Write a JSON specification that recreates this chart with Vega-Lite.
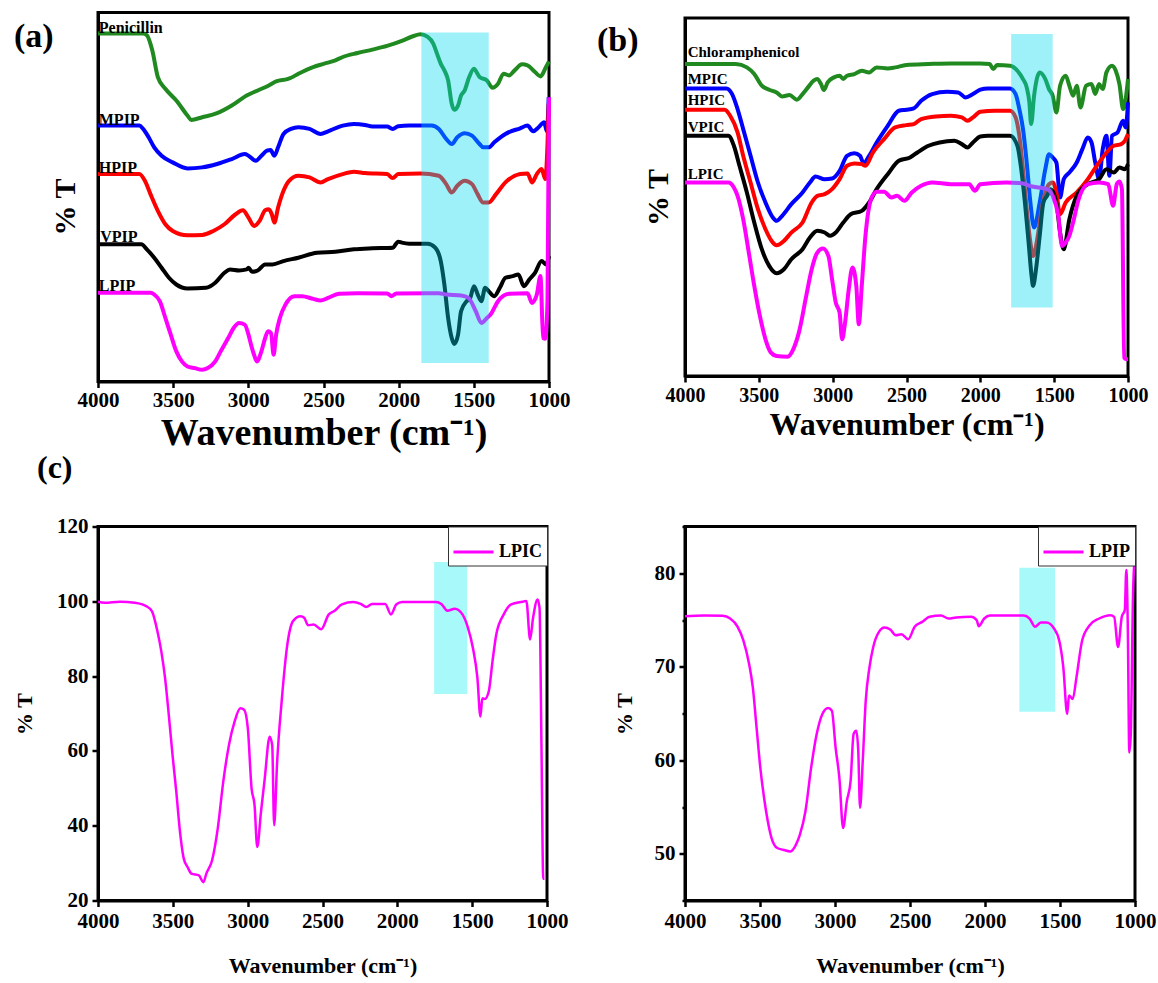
{
  "$schema": "https://vega.github.io/schema/vega-lite/v6.json",
  "background": "white",
  "padding": {"left": 12, "top": 10.5, "right": 0, "bottom": 0},
  "config": {
    "font": "Liberation Serif",
    "view": {"stroke": "black", "strokeWidth": 3},
    "axis": {"grid": false, "domainColor": "black", "tickColor": "black", "labelColor": "black", "titleColor": "black", "labelFont": "Liberation Serif", "titleFont": "Liberation Serif", "labelFontWeight": "bold", "titleFontWeight": "bold", "labelFlush": false, "labelOverlap": false, "labelBound": false},
    "title": {"font": "Liberation Serif", "fontWeight": "bold", "color": "black", "anchor": "start", "frame": "group", "offset": 0, "baseline": "alphabetic"},
    "text": {"font": "Liberation Serif", "fontWeight": "bold", "color": "black"}
  },
  "resolve": {"scale": {"color": "independent"}, "legend": {"color": "independent"}},
  "columns": 2,
  "spacing": {"row": 145, "column": 136},
  "bounds": "flush",
  "align": "each",
  "center": {"row": true},
  "datasets": {
    "a": [
      {"s":"Penicillin","w":4000,"t":1040},{"s":"Penicillin","w":3700,"t":1040},{"s":"Penicillin","w":3675,"t":1035},{"s":"Penicillin","w":3639,"t":990},{"s":"Penicillin","w":3602,"t":910},{"s":"Penicillin","w":3552,"t":875},{"s":"Penicillin","w":3479,"t":840},{"s":"Penicillin","w":3405,"t":795},{"s":"Penicillin","w":3380,"t":782},{"s":"Penicillin","w":3307,"t":790},{"s":"Penicillin","w":3208,"t":802},{"s":"Penicillin","w":3110,"t":825},{"s":"Penicillin","w":3011,"t":855},{"s":"Penicillin","w":2938,"t":870},{"s":"Penicillin","w":2864,"t":885},{"s":"Penicillin","w":2815,"t":897},{"s":"Penicillin","w":2741,"t":904},{"s":"Penicillin","w":2716,"t":908},{"s":"Penicillin","w":2667,"t":920},{"s":"Penicillin","w":2569,"t":940},{"s":"Penicillin","w":2495,"t":950},{"s":"Penicillin","w":2421,"t":960},{"s":"Penicillin","w":2372,"t":970},{"s":"Penicillin","w":2274,"t":982},{"s":"Penicillin","w":2175,"t":992},{"s":"Penicillin","w":2077,"t":1003},{"s":"Penicillin","w":1979,"t":1018},{"s":"Penicillin","w":1905,"t":1032},{"s":"Penicillin","w":1856,"t":1038},{"s":"Penicillin","w":1807,"t":1030},{"s":"Penicillin","w":1770,"t":1010},{"s":"Penicillin","w":1745,"t":980},{"s":"Penicillin","w":1720,"t":950},{"s":"Penicillin","w":1696,"t":930},{"s":"Penicillin","w":1671,"t":900},{"s":"Penicillin","w":1647,"t":830},{"s":"Penicillin","w":1630,"t":812},{"s":"Penicillin","w":1605,"t":825},{"s":"Penicillin","w":1585,"t":855},{"s":"Penicillin","w":1561,"t":870},{"s":"Penicillin","w":1531,"t":910},{"s":"Penicillin","w":1499,"t":935},{"s":"Penicillin","w":1482,"t":925},{"s":"Penicillin","w":1462,"t":910},{"s":"Penicillin","w":1413,"t":900},{"s":"Penicillin","w":1376,"t":878},{"s":"Penicillin","w":1339,"t":890},{"s":"Penicillin","w":1302,"t":920},{"s":"Penicillin","w":1266,"t":915},{"s":"Penicillin","w":1229,"t":930},{"s":"Penicillin","w":1179,"t":948},{"s":"Penicillin","w":1143,"t":945},{"s":"Penicillin","w":1093,"t":925},{"s":"Penicillin","w":1057,"t":912},{"s":"Penicillin","w":1020,"t":940},{"s":"Penicillin","w":1000,"t":957},
      {"s":"MPIP","w":4000,"t":765},{"s":"MPIP","w":3725,"t":765},{"s":"MPIP","w":3700,"t":755},{"s":"MPIP","w":3663,"t":730},{"s":"MPIP","w":3626,"t":700},{"s":"MPIP","w":3577,"t":675},{"s":"MPIP","w":3503,"t":655},{"s":"MPIP","w":3405,"t":637},{"s":"MPIP","w":3307,"t":640},{"s":"MPIP","w":3208,"t":650},{"s":"MPIP","w":3110,"t":665},{"s":"MPIP","w":3024,"t":680},{"s":"MPIP","w":2999,"t":675},{"s":"MPIP","w":2950,"t":660},{"s":"MPIP","w":2913,"t":675},{"s":"MPIP","w":2876,"t":690},{"s":"MPIP","w":2852,"t":692},{"s":"MPIP","w":2827,"t":675},{"s":"MPIP","w":2802,"t":700},{"s":"MPIP","w":2766,"t":740},{"s":"MPIP","w":2716,"t":755},{"s":"MPIP","w":2667,"t":760},{"s":"MPIP","w":2593,"t":755},{"s":"MPIP","w":2520,"t":740},{"s":"MPIP","w":2470,"t":748},{"s":"MPIP","w":2372,"t":765},{"s":"MPIP","w":2298,"t":770},{"s":"MPIP","w":2224,"t":767},{"s":"MPIP","w":2175,"t":762},{"s":"MPIP","w":2077,"t":762},{"s":"MPIP","w":2040,"t":755},{"s":"MPIP","w":2003,"t":763},{"s":"MPIP","w":1930,"t":765},{"s":"MPIP","w":1856,"t":765},{"s":"MPIP","w":1782,"t":765},{"s":"MPIP","w":1733,"t":755},{"s":"MPIP","w":1684,"t":725},{"s":"MPIP","w":1647,"t":710},{"s":"MPIP","w":1610,"t":730},{"s":"MPIP","w":1561,"t":742},{"s":"MPIP","w":1512,"t":735},{"s":"MPIP","w":1462,"t":710},{"s":"MPIP","w":1438,"t":700},{"s":"MPIP","w":1401,"t":700},{"s":"MPIP","w":1364,"t":715},{"s":"MPIP","w":1290,"t":740},{"s":"MPIP","w":1192,"t":757},{"s":"MPIP","w":1143,"t":765},{"s":"MPIP","w":1106,"t":748},{"s":"MPIP","w":1069,"t":760},{"s":"MPIP","w":1032,"t":775},{"s":"MPIP","w":1014,"t":748},{"s":"MPIP","w":1002,"t":850},
      {"s":"HPIP","w":4000,"t":620},{"s":"HPIP","w":3725,"t":620},{"s":"HPIP","w":3688,"t":600},{"s":"HPIP","w":3651,"t":560},{"s":"HPIP","w":3602,"t":510},{"s":"HPIP","w":3552,"t":470},{"s":"HPIP","w":3503,"t":450},{"s":"HPIP","w":3405,"t":437},{"s":"HPIP","w":3307,"t":438},{"s":"HPIP","w":3233,"t":450},{"s":"HPIP","w":3159,"t":470},{"s":"HPIP","w":3085,"t":500},{"s":"HPIP","w":3036,"t":512},{"s":"HPIP","w":2999,"t":490},{"s":"HPIP","w":2962,"t":465},{"s":"HPIP","w":2925,"t":480},{"s":"HPIP","w":2888,"t":512},{"s":"HPIP","w":2864,"t":515},{"s":"HPIP","w":2844,"t":500},{"s":"HPIP","w":2827,"t":475},{"s":"HPIP","w":2802,"t":520},{"s":"HPIP","w":2766,"t":570},{"s":"HPIP","w":2729,"t":600},{"s":"HPIP","w":2667,"t":615},{"s":"HPIP","w":2593,"t":610},{"s":"HPIP","w":2520,"t":595},{"s":"HPIP","w":2470,"t":605},{"s":"HPIP","w":2372,"t":620},{"s":"HPIP","w":2298,"t":627},{"s":"HPIP","w":2224,"t":623},{"s":"HPIP","w":2077,"t":620},{"s":"HPIP","w":2040,"t":608},{"s":"HPIP","w":2003,"t":620},{"s":"HPIP","w":1856,"t":622},{"s":"HPIP","w":1733,"t":615},{"s":"HPIP","w":1684,"t":590},{"s":"HPIP","w":1647,"t":565},{"s":"HPIP","w":1610,"t":585},{"s":"HPIP","w":1561,"t":600},{"s":"HPIP","w":1512,"t":590},{"s":"HPIP","w":1475,"t":560},{"s":"HPIP","w":1438,"t":535},{"s":"HPIP","w":1401,"t":535},{"s":"HPIP","w":1352,"t":560},{"s":"HPIP","w":1290,"t":595},{"s":"HPIP","w":1192,"t":620},{"s":"HPIP","w":1143,"t":622},{"s":"HPIP","w":1113,"t":595},{"s":"HPIP","w":1081,"t":620},{"s":"HPIP","w":1049,"t":635},{"s":"HPIP","w":1025,"t":605},{"s":"HPIP","w":1010,"t":710},{"s":"HPIP","w":1002,"t":830},
      {"s":"VPIP","w":4000,"t":410},{"s":"VPIP","w":3712,"t":410},{"s":"VPIP","w":3675,"t":395},{"s":"VPIP","w":3626,"t":370},{"s":"VPIP","w":3577,"t":340},{"s":"VPIP","w":3528,"t":310},{"s":"VPIP","w":3479,"t":290},{"s":"VPIP","w":3405,"t":278},{"s":"VPIP","w":3282,"t":280},{"s":"VPIP","w":3220,"t":295},{"s":"VPIP","w":3159,"t":325},{"s":"VPIP","w":3122,"t":335},{"s":"VPIP","w":3061,"t":332},{"s":"VPIP","w":3011,"t":335},{"s":"VPIP","w":2999,"t":340},{"s":"VPIP","w":2975,"t":328},{"s":"VPIP","w":2938,"t":332},{"s":"VPIP","w":2888,"t":350},{"s":"VPIP","w":2839,"t":350},{"s":"VPIP","w":2766,"t":360},{"s":"VPIP","w":2667,"t":370},{"s":"VPIP","w":2544,"t":385},{"s":"VPIP","w":2421,"t":388},{"s":"VPIP","w":2298,"t":395},{"s":"VPIP","w":2175,"t":398},{"s":"VPIP","w":2040,"t":400},{"s":"VPIP","w":2003,"t":418},{"s":"VPIP","w":1979,"t":415},{"s":"VPIP","w":1930,"t":412},{"s":"VPIP","w":1856,"t":412},{"s":"VPIP","w":1807,"t":412},{"s":"VPIP","w":1757,"t":400},{"s":"VPIP","w":1720,"t":360},{"s":"VPIP","w":1696,"t":290},{"s":"VPIP","w":1671,"t":190},{"s":"VPIP","w":1647,"t":130},{"s":"VPIP","w":1630,"t":112},{"s":"VPIP","w":1605,"t":140},{"s":"VPIP","w":1585,"t":210},{"s":"VPIP","w":1548,"t":240},{"s":"VPIP","w":1524,"t":250},{"s":"VPIP","w":1499,"t":285},{"s":"VPIP","w":1474,"t":260},{"s":"VPIP","w":1450,"t":240},{"s":"VPIP","w":1425,"t":280},{"s":"VPIP","w":1401,"t":270},{"s":"VPIP","w":1364,"t":255},{"s":"VPIP","w":1327,"t":280},{"s":"VPIP","w":1290,"t":310},{"s":"VPIP","w":1241,"t":315},{"s":"VPIP","w":1204,"t":320},{"s":"VPIP","w":1167,"t":285},{"s":"VPIP","w":1131,"t":305},{"s":"VPIP","w":1093,"t":325},{"s":"VPIP","w":1049,"t":360},{"s":"VPIP","w":1020,"t":350},{"s":"VPIP","w":1000,"t":375},
      {"s":"LPIP","w":4000,"t":265},{"s":"LPIP","w":3651,"t":265},{"s":"LPIP","w":3626,"t":260},{"s":"LPIP","w":3589,"t":240},{"s":"LPIP","w":3552,"t":190},{"s":"LPIP","w":3516,"t":140},{"s":"LPIP","w":3479,"t":90},{"s":"LPIP","w":3442,"t":60},{"s":"LPIP","w":3405,"t":45},{"s":"LPIP","w":3356,"t":40},{"s":"LPIP","w":3307,"t":35},{"s":"LPIP","w":3270,"t":40},{"s":"LPIP","w":3220,"t":60},{"s":"LPIP","w":3184,"t":90},{"s":"LPIP","w":3134,"t":130},{"s":"LPIP","w":3098,"t":160},{"s":"LPIP","w":3061,"t":175},{"s":"LPIP","w":3024,"t":170},{"s":"LPIP","w":2999,"t":140},{"s":"LPIP","w":2982,"t":110},{"s":"LPIP","w":2962,"t":80},{"s":"LPIP","w":2943,"t":60},{"s":"LPIP","w":2913,"t":90},{"s":"LPIP","w":2888,"t":130},{"s":"LPIP","w":2869,"t":150},{"s":"LPIP","w":2849,"t":145},{"s":"LPIP","w":2832,"t":80},{"s":"LPIP","w":2815,"t":140},{"s":"LPIP","w":2790,"t":190},{"s":"LPIP","w":2753,"t":230},{"s":"LPIP","w":2692,"t":255},{"s":"LPIP","w":2643,"t":255},{"s":"LPIP","w":2569,"t":247},{"s":"LPIP","w":2520,"t":242},{"s":"LPIP","w":2470,"t":250},{"s":"LPIP","w":2397,"t":262},{"s":"LPIP","w":2274,"t":264},{"s":"LPIP","w":2077,"t":263},{"s":"LPIP","w":2047,"t":255},{"s":"LPIP","w":2016,"t":263},{"s":"LPIP","w":1733,"t":264},{"s":"LPIP","w":1684,"t":260},{"s":"LPIP","w":1585,"t":257},{"s":"LPIP","w":1536,"t":250},{"s":"LPIP","w":1487,"t":210},{"s":"LPIP","w":1450,"t":175},{"s":"LPIP","w":1413,"t":190},{"s":"LPIP","w":1389,"t":200},{"s":"LPIP","w":1339,"t":240},{"s":"LPIP","w":1266,"t":262},{"s":"LPIP","w":1143,"t":264},{"s":"LPIP","w":1113,"t":235},{"s":"LPIP","w":1081,"t":260},{"s":"LPIP","w":1057,"t":315},{"s":"LPIP","w":1039,"t":130},{"s":"LPIP","w":1025,"t":128},{"s":"LPIP","w":1010,"t":240},{"s":"LPIP","w":1000,"t":850}
    ],
    "aLab": [
      {"label":"Penicillin","w":3995,"t":1042},{"label":"MPIP","w":3995,"t":768},{"label":"HPIP","w":3995,"t":623},{"label":"VPIP","w":3985,"t":418},{"label":"LPIP","w":3995,"t":270}
    ],
    "aBox": [{"x1":1849,"x2":1401,"y1":55,"y2":1043}],
    "b": [
      {"s":"Chloramphenicol","w":4000,"t":935},{"s":"Chloramphenicol","w":3656,"t":935},{"s":"Chloramphenicol","w":3581,"t":925},{"s":"Chloramphenicol","w":3531,"t":905},{"s":"Chloramphenicol","w":3480,"t":870},{"s":"Chloramphenicol","w":3430,"t":858},{"s":"Chloramphenicol","w":3380,"t":850},{"s":"Chloramphenicol","w":3342,"t":838},{"s":"Chloramphenicol","w":3292,"t":842},{"s":"Chloramphenicol","w":3242,"t":828},{"s":"Chloramphenicol","w":3204,"t":845},{"s":"Chloramphenicol","w":3167,"t":865},{"s":"Chloramphenicol","w":3129,"t":885},{"s":"Chloramphenicol","w":3104,"t":890},{"s":"Chloramphenicol","w":3079,"t":875},{"s":"Chloramphenicol","w":3059,"t":857},{"s":"Chloramphenicol","w":3034,"t":880},{"s":"Chloramphenicol","w":2991,"t":895},{"s":"Chloramphenicol","w":2953,"t":900},{"s":"Chloramphenicol","w":2928,"t":890},{"s":"Chloramphenicol","w":2903,"t":900},{"s":"Chloramphenicol","w":2853,"t":905},{"s":"Chloramphenicol","w":2803,"t":915},{"s":"Chloramphenicol","w":2753,"t":910},{"s":"Chloramphenicol","w":2702,"t":925},{"s":"Chloramphenicol","w":2627,"t":922},{"s":"Chloramphenicol","w":2577,"t":925},{"s":"Chloramphenicol","w":2502,"t":932},{"s":"Chloramphenicol","w":2351,"t":935},{"s":"Chloramphenicol","w":2200,"t":937},{"s":"Chloramphenicol","w":2000,"t":937},{"s":"Chloramphenicol","w":1937,"t":935},{"s":"Chloramphenicol","w":1912,"t":920},{"s":"Chloramphenicol","w":1887,"t":932},{"s":"Chloramphenicol","w":1799,"t":930},{"s":"Chloramphenicol","w":1749,"t":915},{"s":"Chloramphenicol","w":1711,"t":890},{"s":"Chloramphenicol","w":1686,"t":865},{"s":"Chloramphenicol","w":1668,"t":820},{"s":"Chloramphenicol","w":1656,"t":755},{"s":"Chloramphenicol","w":1636,"t":840},{"s":"Chloramphenicol","w":1598,"t":910},{"s":"Chloramphenicol","w":1560,"t":890},{"s":"Chloramphenicol","w":1535,"t":860},{"s":"Chloramphenicol","w":1510,"t":840},{"s":"Chloramphenicol","w":1485,"t":790},{"s":"Chloramphenicol","w":1460,"t":870},{"s":"Chloramphenicol","w":1422,"t":900},{"s":"Chloramphenicol","w":1397,"t":870},{"s":"Chloramphenicol","w":1372,"t":840},{"s":"Chloramphenicol","w":1347,"t":870},{"s":"Chloramphenicol","w":1322,"t":805},{"s":"Chloramphenicol","w":1284,"t":870},{"s":"Chloramphenicol","w":1247,"t":875},{"s":"Chloramphenicol","w":1222,"t":845},{"s":"Chloramphenicol","w":1196,"t":875},{"s":"Chloramphenicol","w":1171,"t":860},{"s":"Chloramphenicol","w":1146,"t":910},{"s":"Chloramphenicol","w":1108,"t":930},{"s":"Chloramphenicol","w":1083,"t":915},{"s":"Chloramphenicol","w":1058,"t":875},{"s":"Chloramphenicol","w":1033,"t":800},{"s":"Chloramphenicol","w":1016,"t":830},{"s":"Chloramphenicol","w":1000,"t":890},
      {"s":"MPIC","w":4000,"t":862},{"s":"MPIC","w":3719,"t":862},{"s":"MPIC","w":3681,"t":845},{"s":"MPIC","w":3644,"t":800},{"s":"MPIC","w":3606,"t":740},{"s":"MPIC","w":3556,"t":660},{"s":"MPIC","w":3506,"t":580},{"s":"MPIC","w":3455,"t":520},{"s":"MPIC","w":3405,"t":475},{"s":"MPIC","w":3380,"t":465},{"s":"MPIC","w":3342,"t":480},{"s":"MPIC","w":3280,"t":515},{"s":"MPIC","w":3204,"t":550},{"s":"MPIC","w":3154,"t":580},{"s":"MPIC","w":3116,"t":598},{"s":"MPIC","w":3054,"t":590},{"s":"MPIC","w":3004,"t":592},{"s":"MPIC","w":2953,"t":615},{"s":"MPIC","w":2903,"t":660},{"s":"MPIC","w":2853,"t":668},{"s":"MPIC","w":2815,"t":660},{"s":"MPIC","w":2790,"t":638},{"s":"MPIC","w":2753,"t":660},{"s":"MPIC","w":2702,"t":700},{"s":"MPIC","w":2627,"t":750},{"s":"MPIC","w":2552,"t":795},{"s":"MPIC","w":2502,"t":798},{"s":"MPIC","w":2451,"t":802},{"s":"MPIC","w":2401,"t":825},{"s":"MPIC","w":2326,"t":845},{"s":"MPIC","w":2225,"t":852},{"s":"MPIC","w":2150,"t":850},{"s":"MPIC","w":2100,"t":835},{"s":"MPIC","w":2050,"t":845},{"s":"MPIC","w":2000,"t":858},{"s":"MPIC","w":1949,"t":862},{"s":"MPIC","w":1799,"t":862},{"s":"MPIC","w":1761,"t":845},{"s":"MPIC","w":1736,"t":800},{"s":"MPIC","w":1711,"t":740},{"s":"MPIC","w":1686,"t":640},{"s":"MPIC","w":1661,"t":520},{"s":"MPIC","w":1636,"t":445},{"s":"MPIC","w":1598,"t":520},{"s":"MPIC","w":1560,"t":620},{"s":"MPIC","w":1535,"t":665},{"s":"MPIC","w":1510,"t":655},{"s":"MPIC","w":1485,"t":640},{"s":"MPIC","w":1460,"t":535},{"s":"MPIC","w":1435,"t":590},{"s":"MPIC","w":1397,"t":610},{"s":"MPIC","w":1347,"t":640},{"s":"MPIC","w":1309,"t":680},{"s":"MPIC","w":1272,"t":715},{"s":"MPIC","w":1247,"t":700},{"s":"MPIC","w":1222,"t":640},{"s":"MPIC","w":1196,"t":590},{"s":"MPIC","w":1171,"t":680},{"s":"MPIC","w":1146,"t":720},{"s":"MPIC","w":1126,"t":600},{"s":"MPIC","w":1108,"t":720},{"s":"MPIC","w":1071,"t":730},{"s":"MPIC","w":1033,"t":765},{"s":"MPIC","w":1016,"t":745},{"s":"MPIC","w":1000,"t":820},
      {"s":"HPIC","w":4000,"t":798},{"s":"HPIC","w":3731,"t":798},{"s":"HPIC","w":3694,"t":780},{"s":"HPIC","w":3644,"t":730},{"s":"HPIC","w":3606,"t":660},{"s":"HPIC","w":3556,"t":580},{"s":"HPIC","w":3506,"t":500},{"s":"HPIC","w":3455,"t":440},{"s":"HPIC","w":3405,"t":400},{"s":"HPIC","w":3380,"t":392},{"s":"HPIC","w":3330,"t":405},{"s":"HPIC","w":3280,"t":430},{"s":"HPIC","w":3204,"t":460},{"s":"HPIC","w":3142,"t":520},{"s":"HPIC","w":3104,"t":540},{"s":"HPIC","w":3054,"t":545},{"s":"HPIC","w":3004,"t":560},{"s":"HPIC","w":2953,"t":590},{"s":"HPIC","w":2903,"t":630},{"s":"HPIC","w":2853,"t":637},{"s":"HPIC","w":2803,"t":635},{"s":"HPIC","w":2778,"t":630},{"s":"HPIC","w":2727,"t":670},{"s":"HPIC","w":2652,"t":710},{"s":"HPIC","w":2577,"t":745},{"s":"HPIC","w":2502,"t":752},{"s":"HPIC","w":2451,"t":755},{"s":"HPIC","w":2401,"t":770},{"s":"HPIC","w":2300,"t":778},{"s":"HPIC","w":2200,"t":780},{"s":"HPIC","w":2125,"t":775},{"s":"HPIC","w":2087,"t":765},{"s":"HPIC","w":2050,"t":775},{"s":"HPIC","w":2000,"t":792},{"s":"HPIC","w":1899,"t":795},{"s":"HPIC","w":1799,"t":795},{"s":"HPIC","w":1761,"t":775},{"s":"HPIC","w":1736,"t":720},{"s":"HPIC","w":1711,"t":620},{"s":"HPIC","w":1686,"t":500},{"s":"HPIC","w":1661,"t":400},{"s":"HPIC","w":1643,"t":360},{"s":"HPIC","w":1611,"t":420},{"s":"HPIC","w":1585,"t":500},{"s":"HPIC","w":1560,"t":550},{"s":"HPIC","w":1535,"t":575},{"s":"HPIC","w":1510,"t":580},{"s":"HPIC","w":1485,"t":550},{"s":"HPIC","w":1460,"t":485},{"s":"HPIC","w":1422,"t":520},{"s":"HPIC","w":1347,"t":550},{"s":"HPIC","w":1272,"t":590},{"s":"HPIC","w":1196,"t":640},{"s":"HPIC","w":1096,"t":690},{"s":"HPIC","w":1046,"t":695},{"s":"HPIC","w":1021,"t":705},{"s":"HPIC","w":1000,"t":725},
      {"s":"VPIC","w":4000,"t":720},{"s":"VPIC","w":3706,"t":720},{"s":"VPIC","w":3669,"t":690},{"s":"VPIC","w":3631,"t":630},{"s":"VPIC","w":3581,"t":550},{"s":"VPIC","w":3531,"t":460},{"s":"VPIC","w":3480,"t":380},{"s":"VPIC","w":3430,"t":330},{"s":"VPIC","w":3380,"t":308},{"s":"VPIC","w":3330,"t":320},{"s":"VPIC","w":3280,"t":350},{"s":"VPIC","w":3204,"t":380},{"s":"VPIC","w":3154,"t":415},{"s":"VPIC","w":3104,"t":435},{"s":"VPIC","w":3054,"t":430},{"s":"VPIC","w":3016,"t":420},{"s":"VPIC","w":2979,"t":430},{"s":"VPIC","w":2928,"t":460},{"s":"VPIC","w":2878,"t":485},{"s":"VPIC","w":2803,"t":495},{"s":"VPIC","w":2753,"t":520},{"s":"VPIC","w":2702,"t":560},{"s":"VPIC","w":2627,"t":605},{"s":"VPIC","w":2552,"t":645},{"s":"VPIC","w":2476,"t":655},{"s":"VPIC","w":2426,"t":670},{"s":"VPIC","w":2351,"t":690},{"s":"VPIC","w":2276,"t":700},{"s":"VPIC","w":2175,"t":705},{"s":"VPIC","w":2125,"t":695},{"s":"VPIC","w":2087,"t":685},{"s":"VPIC","w":2050,"t":700},{"s":"VPIC","w":2000,"t":718},{"s":"VPIC","w":1949,"t":720},{"s":"VPIC","w":1799,"t":720},{"s":"VPIC","w":1749,"t":690},{"s":"VPIC","w":1723,"t":620},{"s":"VPIC","w":1698,"t":520},{"s":"VPIC","w":1673,"t":400},{"s":"VPIC","w":1653,"t":300},{"s":"VPIC","w":1643,"t":270},{"s":"VPIC","w":1623,"t":320},{"s":"VPIC","w":1598,"t":420},{"s":"VPIC","w":1573,"t":520},{"s":"VPIC","w":1548,"t":540},{"s":"VPIC","w":1523,"t":560},{"s":"VPIC","w":1485,"t":520},{"s":"VPIC","w":1460,"t":430},{"s":"VPIC","w":1435,"t":380},{"s":"VPIC","w":1397,"t":470},{"s":"VPIC","w":1347,"t":540},{"s":"VPIC","w":1272,"t":575},{"s":"VPIC","w":1196,"t":590},{"s":"VPIC","w":1146,"t":620},{"s":"VPIC","w":1096,"t":610},{"s":"VPIC","w":1058,"t":625},{"s":"VPIC","w":1021,"t":620},{"s":"VPIC","w":1000,"t":635},
      {"s":"LPIC","w":4000,"t":580},{"s":"LPIC","w":3706,"t":580},{"s":"LPIC","w":3669,"t":565},{"s":"LPIC","w":3644,"t":540},{"s":"LPIC","w":3606,"t":470},{"s":"LPIC","w":3568,"t":370},{"s":"LPIC","w":3531,"t":270},{"s":"LPIC","w":3493,"t":180},{"s":"LPIC","w":3455,"t":110},{"s":"LPIC","w":3418,"t":70},{"s":"LPIC","w":3380,"t":60},{"s":"LPIC","w":3305,"t":58},{"s":"LPIC","w":3267,"t":80},{"s":"LPIC","w":3229,"t":130},{"s":"LPIC","w":3179,"t":240},{"s":"LPIC","w":3142,"t":320},{"s":"LPIC","w":3104,"t":370},{"s":"LPIC","w":3066,"t":382},{"s":"LPIC","w":3029,"t":360},{"s":"LPIC","w":3004,"t":290},{"s":"LPIC","w":2979,"t":220},{"s":"LPIC","w":2953,"t":190},{"s":"LPIC","w":2936,"t":110},{"s":"LPIC","w":2916,"t":160},{"s":"LPIC","w":2891,"t":260},{"s":"LPIC","w":2866,"t":325},{"s":"LPIC","w":2840,"t":270},{"s":"LPIC","w":2823,"t":155},{"s":"LPIC","w":2803,"t":270},{"s":"LPIC","w":2778,"t":420},{"s":"LPIC","w":2740,"t":530},{"s":"LPIC","w":2702,"t":552},{"s":"LPIC","w":2652,"t":552},{"s":"LPIC","w":2602,"t":535},{"s":"LPIC","w":2564,"t":540},{"s":"LPIC","w":2514,"t":525},{"s":"LPIC","w":2464,"t":550},{"s":"LPIC","w":2401,"t":570},{"s":"LPIC","w":2326,"t":580},{"s":"LPIC","w":2200,"t":575},{"s":"LPIC","w":2075,"t":575},{"s":"LPIC","w":2037,"t":555},{"s":"LPIC","w":2000,"t":575},{"s":"LPIC","w":1824,"t":580},{"s":"LPIC","w":1723,"t":578},{"s":"LPIC","w":1648,"t":568},{"s":"LPIC","w":1548,"t":560},{"s":"LPIC","w":1510,"t":540},{"s":"LPIC","w":1472,"t":480},{"s":"LPIC","w":1447,"t":390},{"s":"LPIC","w":1422,"t":400},{"s":"LPIC","w":1397,"t":420},{"s":"LPIC","w":1372,"t":460},{"s":"LPIC","w":1334,"t":530},{"s":"LPIC","w":1272,"t":575},{"s":"LPIC","w":1196,"t":580},{"s":"LPIC","w":1134,"t":575},{"s":"LPIC","w":1101,"t":510},{"s":"LPIC","w":1076,"t":575},{"s":"LPIC","w":1058,"t":583},{"s":"LPIC","w":1041,"t":560},{"s":"LPIC","w":1026,"t":55},{"s":"LPIC","w":1008,"t":50},{"s":"LPIC","w":1000,"t":50}
    ],
    "bLab": [
      {"label":"Chloramphenicol","w":3982,"t":957},{"label":"MPIC","w":3982,"t":876},{"label":"HPIC","w":3982,"t":811},{"label":"VPIC","w":3982,"t":731},{"label":"LPIC","w":3982,"t":591}
    ],
    "bBox": [{"x1":1791,"x2":1510,"y1":205,"y2":1025}],
    "cl": [
      {"s":"LPIC","w":4000,"t":99.9},{"s":"LPIC","w":3955,"t":99.6},{"s":"LPIC","w":3854,"t":99.9},{"s":"LPIC","w":3754,"t":99.6},{"s":"LPIC","w":3678,"t":98.7},{"s":"LPIC","w":3640,"t":97.4},{"s":"LPIC","w":3603,"t":92.0},{"s":"LPIC","w":3577,"t":86.6},{"s":"LPIC","w":3552,"t":79.5},{"s":"LPIC","w":3527,"t":69.6},{"s":"LPIC","w":3502,"t":58.9},{"s":"LPIC","w":3477,"t":49.1},{"s":"LPIC","w":3452,"t":38.3},{"s":"LPIC","w":3427,"t":31.2},{"s":"LPIC","w":3401,"t":28.9},{"s":"LPIC","w":3376,"t":27.2},{"s":"LPIC","w":3326,"t":26.7},{"s":"LPIC","w":3296,"t":24.9},{"s":"LPIC","w":3276,"t":27.2},{"s":"LPIC","w":3238,"t":30.7},{"s":"LPIC","w":3200,"t":39.2},{"s":"LPIC","w":3163,"t":51.8},{"s":"LPIC","w":3125,"t":61.6},{"s":"LPIC","w":3087,"t":67.9},{"s":"LPIC","w":3049,"t":71.4},{"s":"LPIC","w":3024,"t":71.0},{"s":"LPIC","w":2999,"t":66.1},{"s":"LPIC","w":2974,"t":50.0},{"s":"LPIC","w":2954,"t":45.5},{"s":"LPIC","w":2936,"t":34.3},{"s":"LPIC","w":2911,"t":43.7},{"s":"LPIC","w":2886,"t":52.6},{"s":"LPIC","w":2853,"t":63.8},{"s":"LPIC","w":2836,"t":61.5},{"s":"LPIC","w":2823,"t":40.1},{"s":"LPIC","w":2803,"t":57.1},{"s":"LPIC","w":2773,"t":73.2},{"s":"LPIC","w":2735,"t":88.4},{"s":"LPIC","w":2697,"t":94.7},{"s":"LPIC","w":2647,"t":96.0},{"s":"LPIC","w":2622,"t":95.6},{"s":"LPIC","w":2597,"t":93.6},{"s":"LPIC","w":2559,"t":93.8},{"s":"LPIC","w":2509,"t":92.5},{"s":"LPIC","w":2458,"t":96.5},{"s":"LPIC","w":2421,"t":97.4},{"s":"LPIC","w":2370,"t":99.2},{"s":"LPIC","w":2295,"t":99.8},{"s":"LPIC","w":2245,"t":99.3},{"s":"LPIC","w":2207,"t":98.5},{"s":"LPIC","w":2169,"t":99.3},{"s":"LPIC","w":2081,"t":99.3},{"s":"LPIC","w":2043,"t":96.5},{"s":"LPIC","w":2006,"t":99.2},{"s":"LPIC","w":1968,"t":99.8},{"s":"LPIC","w":1742,"t":99.8},{"s":"LPIC","w":1704,"t":99.2},{"s":"LPIC","w":1666,"t":97.5},{"s":"LPIC","w":1616,"t":98.0},{"s":"LPIC","w":1565,"t":96.5},{"s":"LPIC","w":1528,"t":92.9},{"s":"LPIC","w":1495,"t":87.5},{"s":"LPIC","w":1465,"t":79.5},{"s":"LPIC","w":1445,"t":69.2},{"s":"LPIC","w":1432,"t":74.1},{"s":"LPIC","w":1415,"t":73.9},{"s":"LPIC","w":1389,"t":75.9},{"s":"LPIC","w":1364,"t":84.0},{"s":"LPIC","w":1339,"t":91.1},{"s":"LPIC","w":1289,"t":96.5},{"s":"LPIC","w":1239,"t":99.2},{"s":"LPIC","w":1163,"t":99.9},{"s":"LPIC","w":1138,"t":100.1},{"s":"LPIC","w":1113,"t":89.8},{"s":"LPIC","w":1093,"t":95.6},{"s":"LPIC","w":1063,"t":100.5},{"s":"LPIC","w":1050,"t":98.3},{"s":"LPIC","w":1037,"t":61.6},{"s":"LPIC","w":1025,"t":25.8},{"s":"LPIC","w":1017,"t":25.8}
    ],
    "clBox": [{"x1":1754,"x2":1533,"y1":75.2,"y2":110.5}],
    "cr": [
      {"s":"LPIP","w":4000,"t":75.41},{"s":"LPIP","w":3875,"t":75.48},{"s":"LPIP","w":3749,"t":75.45},{"s":"LPIP","w":3699,"t":75.16},{"s":"LPIP","w":3649,"t":74.27},{"s":"LPIP","w":3611,"t":72.83},{"s":"LPIP","w":3573,"t":70.32},{"s":"LPIP","w":3548,"t":67.81},{"s":"LPIP","w":3523,"t":63.51},{"s":"LPIP","w":3498,"t":59.21},{"s":"LPIP","w":3473,"t":55.99},{"s":"LPIP","w":3448,"t":53.48},{"s":"LPIP","w":3423,"t":51.68},{"s":"LPIP","w":3385,"t":50.61},{"s":"LPIP","w":3347,"t":50.43},{"s":"LPIP","w":3297,"t":50.25},{"s":"LPIP","w":3260,"t":50.97},{"s":"LPIP","w":3234,"t":52.04},{"s":"LPIP","w":3197,"t":54.55},{"s":"LPIP","w":3159,"t":59.21},{"s":"LPIP","w":3122,"t":62.80},{"s":"LPIP","w":3084,"t":64.95},{"s":"LPIP","w":3046,"t":65.59},{"s":"LPIP","w":3021,"t":65.30},{"s":"LPIP","w":2996,"t":61.36},{"s":"LPIP","w":2971,"t":58.14},{"s":"LPIP","w":2946,"t":52.76},{"s":"LPIP","w":2921,"t":55.63},{"s":"LPIP","w":2896,"t":57.78},{"s":"LPIP","w":2876,"t":62.80},{"s":"LPIP","w":2858,"t":63.15},{"s":"LPIP","w":2845,"t":61.00},{"s":"LPIP","w":2833,"t":54.91},{"s":"LPIP","w":2815,"t":59.93},{"s":"LPIP","w":2795,"t":66.38},{"s":"LPIP","w":2770,"t":69.96},{"s":"LPIP","w":2745,"t":72.11},{"s":"LPIP","w":2707,"t":73.73},{"s":"LPIP","w":2670,"t":74.19},{"s":"LPIP","w":2632,"t":73.98},{"s":"LPIP","w":2594,"t":73.37},{"s":"LPIP","w":2557,"t":73.48},{"s":"LPIP","w":2512,"t":72.94},{"s":"LPIP","w":2469,"t":74.27},{"s":"LPIP","w":2419,"t":74.80},{"s":"LPIP","w":2369,"t":75.34},{"s":"LPIP","w":2293,"t":75.48},{"s":"LPIP","w":2243,"t":75.16},{"s":"LPIP","w":2193,"t":75.27},{"s":"LPIP","w":2092,"t":75.34},{"s":"LPIP","w":2055,"t":74.98},{"s":"LPIP","w":2042,"t":74.34},{"s":"LPIP","w":2005,"t":75.16},{"s":"LPIP","w":1967,"t":75.48},{"s":"LPIP","w":1741,"t":75.48},{"s":"LPIP","w":1703,"t":75.16},{"s":"LPIP","w":1666,"t":74.27},{"s":"LPIP","w":1628,"t":74.73},{"s":"LPIP","w":1590,"t":74.73},{"s":"LPIP","w":1540,"t":74.09},{"s":"LPIP","w":1503,"t":72.65},{"s":"LPIP","w":1478,"t":69.96},{"s":"LPIP","w":1452,"t":64.95},{"s":"LPIP","w":1440,"t":66.92},{"s":"LPIP","w":1415,"t":66.56},{"s":"LPIP","w":1390,"t":68.89},{"s":"LPIP","w":1352,"t":72.83},{"s":"LPIP","w":1302,"t":74.44},{"s":"LPIP","w":1239,"t":75.16},{"s":"LPIP","w":1164,"t":75.52},{"s":"LPIP","w":1139,"t":75.34},{"s":"LPIP","w":1113,"t":72.11},{"s":"LPIP","w":1088,"t":75.34},{"s":"LPIP","w":1068,"t":76.06},{"s":"LPIP","w":1058,"t":80.36},{"s":"LPIP","w":1048,"t":74.27},{"s":"LPIP","w":1038,"t":60.82},{"s":"LPIP","w":1028,"t":62.80},{"s":"LPIP","w":1013,"t":77.85},{"s":"LPIP","w":1001,"t":81.97}
    ],
    "crBox": [{"x1":1771,"x2":1533,"y1":65.2,"y2":80.6}]
  },
  "concat": [
    {
      "width": 451, "height": 369,
      "title": {"text": "(a)", "fontSize": 34, "dx": -84, "dy": 45.5},
      "layer": [
        {
          "data": {"name": "a"},
          "mark": {"type": "line", "strokeWidth": 4, "interpolate": "monotone"},
          "encoding": {
            "x": {"field": "w", "type": "quantitative", "scale": {"domain": [1000, 4000], "reverse": true, "nice": false, "zero": false},
              "axis": {"values": [4000,3750,3500,3250,3000,2750,2500,2250,2000,1750,1500,1250,1000], "format": "d", "labelExpr": "datum.value % 500 === 0 ? datum.label : ''", "tickSize": {"condition": {"test": "datum.value % 500 === 0", "value": 6}, "value": 3}, "tickWidth": 2.5, "domainWidth": 3, "labelFontSize": 21, "labelPadding": 2, "title": "Wavenumber (cm⁻¹)", "titleFontSize": 38, "titlePadding": 4}},
            "y": {"field": "t", "type": "quantitative", "scale": {"domain": [0, 1103], "nice": false, "zero": false},
              "axis": {"labels": false, "ticks": false, "domainWidth": 3, "title": "% T", "titleFontSize": 30, "titlePadding": 18, "titleY": 194}},
            "color": {"field": "s", "type": "nominal", "scale": {"domain": ["Penicillin","MPIP","HPIP","VPIP","LPIP"], "range": ["#208a20","#0000ff","#ff0000","#000000","#ff00ff"]}, "legend": null}
          }
        },
        {
          "data": {"name": "aLab"},
          "mark": {"type": "text", "align": "left", "baseline": "alphabetic", "fontSize": 16, "font": "Liberation Serif", "fontWeight": "bold", "color": "black"},
          "encoding": {"x": {"field": "w", "type": "quantitative"}, "y": {"field": "t", "type": "quantitative"}, "text": {"field": "label"}}
        },
        {
          "data": {"name": "aBox"},
          "mark": {"type": "rect", "fill": "#00d8f0", "opacity": 0.38},
          "encoding": {"x": {"field": "x1", "type": "quantitative"}, "x2": {"field": "x2"}, "y": {"field": "y1", "type": "quantitative"}, "y2": {"field": "y2"}}
        }
      ]
    },
    {
      "width": 443, "height": 358,
      "title": {"text": "(b)", "fontSize": 34, "dx": -88, "dy": 44},
      "layer": [
        {
          "data": {"name": "b"},
          "mark": {"type": "line", "strokeWidth": 4, "interpolate": "monotone"},
          "encoding": {
            "x": {"field": "w", "type": "quantitative", "scale": {"domain": [1000, 4000], "reverse": true, "nice": false, "zero": false},
              "axis": {"values": [4000,3750,3500,3250,3000,2750,2500,2250,2000,1750,1500,1250,1000], "format": "d", "labelExpr": "datum.value % 500 === 0 ? datum.label : ''", "tickSize": {"condition": {"test": "datum.value % 500 === 0", "value": 6}, "value": 3}, "tickWidth": 2.5, "domainWidth": 3, "labelFontSize": 20, "labelPadding": 3, "title": "Wavenumber (cm⁻¹)", "titleFontSize": 32, "titlePadding": 4}},
            "y": {"field": "t", "type": "quantitative", "scale": {"domain": [0, 1073], "nice": false, "zero": false},
              "axis": {"labels": false, "ticks": false, "domainWidth": 3, "title": "% T", "titleFontSize": 30, "titlePadding": 12}},
            "color": {"field": "s", "type": "nominal", "scale": {"domain": ["Chloramphenicol","MPIC","HPIC","VPIC","LPIC"], "range": ["#208a20","#0000ff","#ff0000","#000000","#ff00ff"]}, "legend": null}
          }
        },
        {
          "data": {"name": "bLab"},
          "mark": {"type": "text", "align": "left", "baseline": "alphabetic", "fontSize": 15, "font": "Liberation Serif", "fontWeight": "bold", "color": "black"},
          "encoding": {"x": {"field": "w", "type": "quantitative"}, "y": {"field": "t", "type": "quantitative"}, "text": {"field": "label"}}
        },
        {
          "data": {"name": "bBox"},
          "mark": {"type": "rect", "fill": "#00d8f0", "opacity": 0.38},
          "encoding": {"x": {"field": "x1", "type": "quantitative"}, "x2": {"field": "x2"}, "y": {"field": "y1", "type": "quantitative"}, "y2": {"field": "y2"}}
        }
      ]
    },
    {
      "width": 449, "height": 374,
      "title": {"text": "(c)", "fontSize": 32, "dx": -61, "dy": -27},
      "layer": [
        {
          "data": {"name": "clBox"},
          "mark": {"type": "rect", "fill": "#a8fafa"},
          "encoding": {
            "x": {"field": "x1", "type": "quantitative", "scale": {"domain": [1000, 4000], "reverse": true, "nice": false, "zero": false},
              "axis": {"values": [4000,3750,3500,3250,3000,2750,2500,2250,2000,1750,1500,1250,1000], "format": "d", "labelExpr": "datum.value % 500 === 0 ? datum.label : ''", "tickSize": {"condition": {"test": "datum.value % 500 === 0", "value": 6}, "value": 3}, "tickWidth": 2.5, "domainWidth": 3, "labelFontSize": 21, "labelPadding": 4, "title": "Wavenumber (cm⁻¹)", "titleFontSize": 22, "titlePadding": 24}},
            "x2": {"field": "x2"},
            "y": {"field": "y1", "type": "quantitative", "scale": {"domain": [20, 120], "nice": false, "zero": false},
              "axis": {"values": [20,30,40,50,60,70,80,90,100,110,120], "labelExpr": "datum.value % 20 === 0 ? datum.label : ''", "tickSize": {"condition": {"test": "datum.value % 20 === 0", "value": 6}, "value": 3}, "tickWidth": 2.5, "domainWidth": 3, "labelFontSize": 21, "labelPadding": 4, "title": "% T", "titleFontSize": 22, "titlePadding": 20}},
            "y2": {"field": "y2"}
          }
        },
        {
          "data": {"name": "cl"},
          "mark": {"type": "line", "strokeWidth": 2.5, "interpolate": "monotone"},
          "encoding": {
            "x": {"field": "w", "type": "quantitative"},
            "y": {"field": "t", "type": "quantitative"},
            "color": {"field": "s", "type": "nominal", "scale": {"domain": ["LPIC"], "range": ["#ff00ff"]},
              "legend": {"orient": "top-right", "offset": 0, "title": null, "strokeColor": "#333333", "fillColor": "white", "padding": 4, "symbolType": "stroke", "symbolSize": 1600, "symbolStrokeWidth": 3, "labelFont": "Liberation Serif", "labelFontWeight": "bold", "labelFontSize": 18, "labelColor": "black", "labelOffset": 4}}
          }
        }
      ]
    },
    {
      "width": 450, "height": 374,
      "layer": [
        {
          "data": {"name": "crBox"},
          "mark": {"type": "rect", "fill": "#a8fafa"},
          "encoding": {
            "x": {"field": "x1", "type": "quantitative", "scale": {"domain": [1000, 4000], "reverse": true, "nice": false, "zero": false},
              "axis": {"values": [4000,3750,3500,3250,3000,2750,2500,2250,2000,1750,1500,1250,1000], "format": "d", "labelExpr": "datum.value % 500 === 0 ? datum.label : ''", "tickSize": {"condition": {"test": "datum.value % 500 === 0", "value": 6}, "value": 3}, "tickWidth": 2.5, "domainWidth": 3, "labelFontSize": 21, "labelPadding": 4, "title": "Wavenumber (cm⁻¹)", "titleFontSize": 22, "titlePadding": 24}},
            "x2": {"field": "x2"},
            "y": {"field": "y1", "type": "quantitative", "scale": {"domain": [45, 85], "nice": false, "zero": false},
              "axis": {"values": [45,50,55,60,65,70,75,80,85], "labelExpr": "datum.value % 10 === 0 ? datum.label : ''", "tickSize": {"condition": {"test": "datum.value % 10 === 0", "value": 6}, "value": 3}, "tickWidth": 2.5, "domainWidth": 3, "labelFontSize": 21, "labelPadding": 4, "title": "% T", "titleFontSize": 22, "titlePadding": 18}},
            "y2": {"field": "y2"}
          }
        },
        {
          "data": {"name": "cr"},
          "mark": {"type": "line", "strokeWidth": 2.5, "interpolate": "monotone"},
          "encoding": {
            "x": {"field": "w", "type": "quantitative"},
            "y": {"field": "t", "type": "quantitative"},
            "color": {"field": "s", "type": "nominal", "scale": {"domain": ["LPIP"], "range": ["#ff00ff"]},
              "legend": {"orient": "top-right", "offset": 0, "title": null, "strokeColor": "#333333", "fillColor": "white", "padding": 4, "symbolType": "stroke", "symbolSize": 1600, "symbolStrokeWidth": 3, "labelFont": "Liberation Serif", "labelFontWeight": "bold", "labelFontSize": 18, "labelColor": "black", "labelOffset": 4}}
          }
        }
      ]
    }
  ]
}
